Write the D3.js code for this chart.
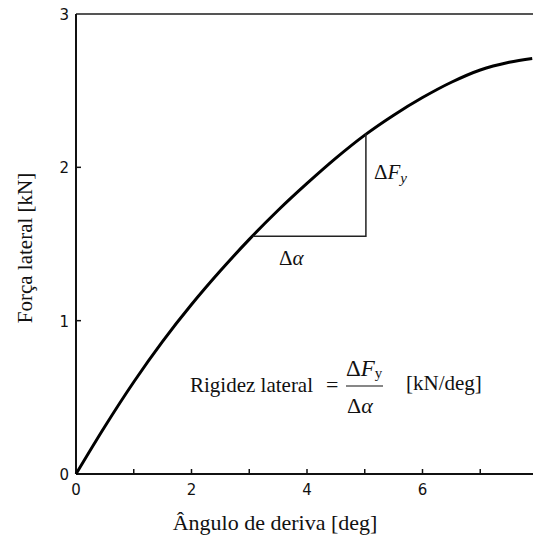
<!DOCTYPE html>
<html><head><meta charset="utf-8">
<script src="https://cdn.jsdelivr.net/npm/d3@7"></script>
<style>body{margin:0;background:#fff}svg{display:block}</style>
</head><body>
<svg id="c" width="533" height="536"></svg>
<script>
const angle = [0, 0.5, 1, 1.5, 2, 2.5, 3, 3.5, 4, 4.5, 5, 5.5, 6, 6.5, 7, 7.5, 7.9];
const force = [0, 0.31, 0.60, 0.865, 1.105, 1.325, 1.53, 1.72, 1.895, 2.06, 2.21, 2.34, 2.455, 2.555, 2.635, 2.685, 2.71];
const xTickLabels = [0, 2, 4, 6];
const xMinorTicks = [1, 2, 3, 4, 5, 6, 7];
const yTickLabels = [0, 1, 2, 3];
const triangle = [[3.06, 1.55], [5.02, 1.55], [5.02, 2.22]];

const svg = d3.select('#c');
const x = d3.scaleLinear().domain([0, 8]).range([76, 538]);
const y = d3.scaleLinear().domain([0, 3]).range([474, 14]);
const serif = 'Liberation Serif, Times New Roman, serif';

// frame
svg.append('line').attr('x1', x(0)).attr('x2', 533).attr('y1', y(3)).attr('y2', y(3))
  .attr('stroke', '#555').attr('stroke-width', 2);
svg.append('line').attr('x1', x(0)).attr('x2', x(0)).attr('y1', y(3)).attr('y2', y(0))
  .attr('stroke', '#111').attr('stroke-width', 2);
svg.append('line').attr('x1', x(0)).attr('x2', 533).attr('y1', y(0)).attr('y2', y(0))
  .attr('stroke', '#111').attr('stroke-width', 2);

// x ticks (inward)
svg.selectAll('.xt').data(xMinorTicks).join('line')
  .attr('x1', d => x(d)).attr('x2', d => x(d)).attr('y1', y(0)).attr('y2', y(0) - 5)
  .attr('stroke', '#111').attr('stroke-width', 1.5);
svg.selectAll('.xl').data(xTickLabels).join('text')
  .attr('x', d => x(d)).attr('y', y(0) + 21).attr('text-anchor', 'middle')
  .attr('font-family', 'DejaVu Sans, sans-serif').attr('font-size', 15).attr('fill', '#111')
  .text(d => d);

// y ticks
svg.selectAll('.yt').data([1, 2]).join('line')
  .attr('x1', x(0)).attr('x2', x(0) + 5).attr('y1', d => y(d)).attr('y2', d => y(d))
  .attr('stroke', '#111').attr('stroke-width', 1.5);
svg.selectAll('.yl').data(yTickLabels).join('text')
  .attr('x', x(0) - 7).attr('y', d => y(d) + 6).attr('text-anchor', 'end')
  .attr('font-family', 'DejaVu Sans, sans-serif').attr('font-size', 15).attr('fill', '#111')
  .text(d => d);

// curve
const line = d3.line().x((d, i) => x(angle[i])).y((d, i) => y(force[i])).curve(d3.curveCatmullRom);
svg.append('path').datum(angle).attr('d', line).attr('fill', 'none')
  .attr('stroke', '#000').attr('stroke-width', 3);

// triangle
svg.append('path').datum(triangle)
  .attr('d', d3.line().x(d => x(d[0])).y(d => y(d[1])))
  .attr('fill', 'none').attr('stroke', '#222').attr('stroke-width', 1.5);

// triangle labels
const t1 = svg.append('text').attr('x', 279).attr('y', 265)
  .attr('font-family', serif).attr('font-size', 21).attr('fill', '#111');
t1.append('tspan').text('Δ');
t1.append('tspan').attr('font-style', 'italic').text('α');
const t2 = svg.append('text').attr('x', 374).attr('y', 179)
  .attr('font-family', serif).attr('font-size', 21).attr('fill', '#111');
t2.append('tspan').text('Δ');
t2.append('tspan').attr('font-style', 'italic').text('F');
t2.append('tspan').attr('font-style', 'italic').attr('font-size', 15).attr('dy', 4).text('y');

// formula
svg.append('text').attr('x', 190).attr('y', 392).attr('font-family', serif).attr('font-size', 21)
  .attr('fill', '#111').text('Rigidez lateral');
svg.append('text').attr('x', 326).attr('y', 392).attr('font-family', serif).attr('font-size', 22)
  .attr('fill', '#111').text('=');
svg.append('line').attr('x1', 346).attr('x2', 383).attr('y1', 386).attr('y2', 386)
  .attr('stroke', '#111').attr('stroke-width', 1.2);
const num = svg.append('text').attr('x', 346).attr('y', 376).attr('font-family', serif)
  .attr('font-size', 23).attr('fill', '#111');
num.append('tspan').text('Δ');
num.append('tspan').attr('font-style', 'italic').text('F');
num.append('tspan').attr('font-size', 15).attr('dy', 2).text('y');
const den = svg.append('text').attr('x', 347).attr('y', 413).attr('font-family', serif)
  .attr('font-size', 22).attr('fill', '#111');
den.append('tspan').text('Δ');
den.append('tspan').attr('font-style', 'italic').text('α');
svg.append('text').attr('x', 406).attr('y', 390).attr('font-family', serif).attr('font-size', 21)
  .attr('fill', '#111').text('[kN/deg]');

// axis titles
svg.append('text').attr('x', 275).attr('y', 530).attr('text-anchor', 'middle')
  .attr('font-family', serif).attr('font-size', 22).attr('fill', '#111')
  .text('Ângulo de deriva  [deg]');
svg.append('text').attr('transform', 'translate(32,248) rotate(-90)').attr('text-anchor', 'middle')
  .attr('font-family', serif).attr('font-size', 21).attr('fill', '#111')
  .text('Força lateral [kN]');
</script>
</body></html>
